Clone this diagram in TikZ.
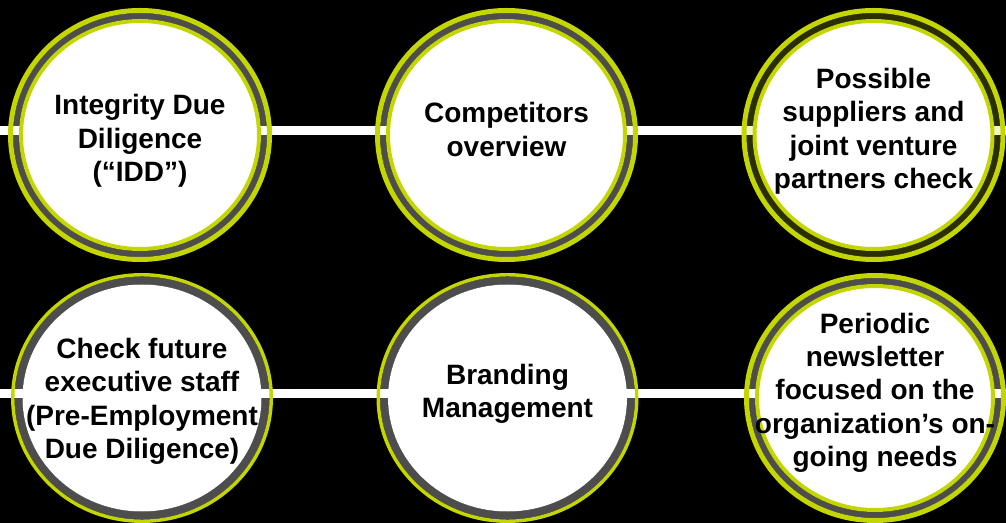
\documentclass[tikz,border=0pt]{standalone}
\usepackage{fontspec}
\setmainfont{Liberation Sans}
\usepackage{tikz}

\definecolor{idlime}{RGB}{196,214,0}

\tikzset{
  track/.style={draw=white, line width=6.75pt},
  outerring/.style={draw=idlime, line width=3.75pt},
  thinring/.style={draw=idlime, line width=2.6pt},
  innerring/.style={draw=idlime, line width=3pt, fill=white},
  greyband/.style={fill=white, fill opacity=0.3, even odd rule},
  greenband/.style={fill=idlime, fill opacity=0.22, even odd rule},
  topic/.style={align=center, inner sep=0.75pt, text=black,
    font=\fontsize{21}{25}\selectfont\bfseries}
}

\begin{document}
\begin{tikzpicture}[x=0.75pt,y=0.75pt,yscale=-1,xscale=1]
\fill[black] (0,0) rectangle (1006,523);
\useasboundingbox (0,0) rectangle (1006,523);
%Centres of the circles
\coordinate (idd) at (140,135);
\coordinate (comp) at (506.5,135);
\coordinate (supp) at (873.5,135);
\coordinate (staff) at (142,398);
\coordinate (brand) at (507.5,398);
\coordinate (news) at (875,398);
%Straight Lines
\coordinate (topleft) at (0,130.5);
\coordinate (topright) at (1006,130.5);
\draw[track] (topleft) -- (topright);
\coordinate (botleft) at (0,393.5);
\coordinate (botright) at (1006,393.5);
\draw[track] (botleft) -- (botright);
%Shape: Circle (Integrity Due Diligence)
\fill[greyband] (idd) ellipse (127 and 122) (idd) ellipse (121 and 116);
\draw[outerring] (idd) ellipse (129.5 and 124.5);
\draw[innerring] (idd) ellipse (119 and 114);
%Shape: Circle (Competitors)
\fill[greyband] (comp) ellipse (126.5 and 122) (comp) ellipse (120.5 and 116);
\draw[outerring] (comp) ellipse (129 and 124.5);
\draw[innerring] (comp) ellipse (118.5 and 114);
%Shape: Circle (Suppliers)
\fill[greenband] (supp) ellipse (127 and 122) (supp) ellipse (121 and 116);
\draw[outerring] (supp) ellipse (129.5 and 124.5);
\draw[innerring] (supp) ellipse (119 and 114);
%Shape: Circle (Executive staff)
\fill[greyband] (staff) ellipse (127.5 and 121.5) (staff) ellipse (119.5 and 113.5);
\draw[thinring] (staff) ellipse (129.25 and 123.25);
\fill[white] (staff) ellipse (119.5 and 113.5);
%Shape: Circle (Branding)
\fill[greyband] (brand) ellipse (127.5 and 121.5) (brand) ellipse (119.5 and 113.5);
\draw[thinring] (brand) ellipse (129.25 and 123.25);
\fill[white] (brand) ellipse (119.5 and 113.5);
%Shape: Circle (Newsletter)
\fill[greyband] (news) ellipse (126 and 120) (news) ellipse (120 and 114);
\draw[outerring] (news) ellipse (128.5 and 122.5);
\draw[innerring] (news) ellipse (118 and 112);
% Text Node
\node[topic] (idd-t) at ([yshift=4.5]idd) {Integrity Due\\Diligence\\(“IDD”)};
% Text Node
\node[topic] (comp-t) at ([yshift=-4.25]comp) {Competitors\\overview};
% Text Node
\node[topic] (supp-t) at ([yshift=-2.75]supp) {Possible\\suppliers and\\joint venture\\partners check};
% Text Node
\node[topic] (staff-t) at ([yshift=2.4]staff) {Check future\\executive staff\\(Pre-Employment\\Due Diligence)};
% Text Node
\node[topic] (brand-t) at ([yshift=-3]brand) {Branding\\Management};
% Text Node
\node[topic] (news-t) at ([yshift=-4]news) {Periodic\\newsletter\\focused on the\\organization’s on-\\going needs};
\end{tikzpicture}
\end{document}
